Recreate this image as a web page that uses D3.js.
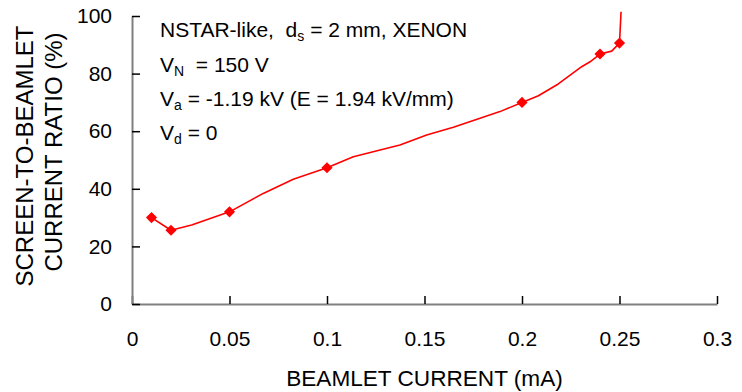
<!DOCTYPE html>
<html>
<head>
<meta charset="utf-8">
<script src="https://cdn.jsdelivr.net/npm/d3@7"></script>
<style>
  html, body { margin: 0; padding: 0; background: #fff; }
  svg { display: block; font-family: "Liberation Sans", Arial, sans-serif; }
</style>
</head>
<body>
<svg id="chart" width="742" height="392"></svg>
<script>
// Beamlet current (mA) along the measured curve
const curveCurrent = [0.01, 0.02, 0.0306, 0.05, 0.0673, 0.0827, 0.1, 0.1135, 0.1374, 0.1511,
  0.1648, 0.1887, 0.2, 0.2084, 0.2186, 0.2306, 0.2349, 0.24, 0.246, 0.25, 0.2508];
// Screen-to-beamlet current ratio (%) along the measured curve
const curveRatio = [30.0, 25.6, 27.4, 32.0, 38.4, 43.3, 47.3, 51.1, 55.2, 58.7,
  61.4, 66.8, 70.0, 72.3, 76.4, 82.4, 84.1, 86.8, 87.8, 90.6, 101.5];
// Marked operating points
const markerCurrent = [0.01, 0.02, 0.05, 0.1, 0.2, 0.24, 0.25];
const markerRatio = [30.0, 25.6, 32.0, 47.3, 70.0, 86.8, 90.6];
// Axis ticks
const xTicks = [0, 0.05, 0.1, 0.15, 0.2, 0.25, 0.3];
const xTickLabels = ["0", "0.05", "0.1", "0.15", "0.2", "0.25", "0.3"];
const yTicks = [0, 20, 40, 60, 80, 100];
const yTickLabels = ["0", "20", "40", "60", "80", "100"];

const svg = d3.select("#chart");
const x = d3.scaleLinear().domain([0, 0.3]).range([132, 717]);
const y = d3.scaleLinear().domain([0, 100]).range([304, 16]);

// X axis: ticks point up into the plot
const gx = svg.append("g").attr("transform", `translate(0,${y(0)})`)
  .call(d3.axisBottom(x).tickValues(xTicks).tickFormat((d, i) => xTickLabels[i])
    .tickSize(-8).tickSizeOuter(0).tickPadding(27));
// Y axis: ticks point right into the plot
const gy = svg.append("g").attr("transform", `translate(${x(0)},0)`)
  .call(d3.axisLeft(y).tickValues(yTicks).tickFormat((d, i) => yTickLabels[i])
    .tickSize(-8).tickSizeOuter(0).tickPadding(20));

[gx, gy].forEach(g => {
  g.select(".domain").attr("stroke", "#808080").attr("stroke-width", 2);
  g.selectAll(".tick line").attr("stroke", "#000").attr("stroke-width", 1.5);
  g.selectAll(".tick text").attr("fill", "#000").attr("font-size", 21)
    .attr("font-family", "Liberation Sans, Arial, sans-serif");
});

// Axis titles
svg.append("text").attr("x", (x(0) + x(0.3)) / 2).attr("y", 386)
  .attr("text-anchor", "middle").attr("font-size", 22.6).attr("fill", "#000")
  .text("BEAMLET CURRENT (mA)");
const yTitle = svg.append("text").attr("transform", "translate(0,156) rotate(-90)")
  .attr("text-anchor", "middle").attr("font-size", 24).attr("fill", "#000");
yTitle.append("tspan").attr("x", 0).attr("y", 33).text("SCREEN-TO-BEAMLET");
yTitle.append("tspan").attr("x", 4).attr("y", 62).text("CURRENT RATIO (%)");

// Curve
const pts = curveCurrent.map((c, i) => [c, curveRatio[i]]);
svg.append("path").datum(pts)
  .attr("fill", "none").attr("stroke", "#ff0000").attr("stroke-width", 1.6)
  .attr("stroke-linejoin", "round")
  .attr("d", d3.line().x(d => x(d[0])).y(d => y(d[1])));

// Diamond markers
const diamond = d3.symbol(d3.symbolSquare, 62);
svg.append("g").selectAll("path")
  .data(markerCurrent.map((c, i) => [c, markerRatio[i]]))
  .join("path")
  .attr("d", diamond)
  .attr("transform", d => `translate(${x(d[0])},${y(d[1])}) rotate(45)`)
  .attr("fill", "#ff0000");

// Operating conditions
const notes = svg.append("g").attr("font-size", 21).attr("fill", "#000");
const lineY = [37, 72, 106, 140];
const addLine = (yy, parts) => {
  const t = notes.append("text").attr("x", 160).attr("y", yy).attr("xml:space", "preserve");
  parts.forEach(p => {
    const s = t.append("tspan").text(p.t);
    if (p.sub) s.attr("font-size", 14).attr("dy", 4);
    if (p.back) s.attr("dy", -4);
  });
};
addLine(lineY[0], [{t: "NSTAR-like,  d"}, {t: "s", sub: true}, {t: " = 2 mm, XENON", back: true}]);
addLine(lineY[1], [{t: "V"}, {t: "N", sub: true}, {t: "  = 150 V", back: true}]);
addLine(lineY[2], [{t: "V"}, {t: "a", sub: true}, {t: " = -1.19 kV (E = 1.94 kV/mm)", back: true}]);
addLine(lineY[3], [{t: "V"}, {t: "d", sub: true}, {t: " = 0", back: true}]);
</script>
</body>
</html>
